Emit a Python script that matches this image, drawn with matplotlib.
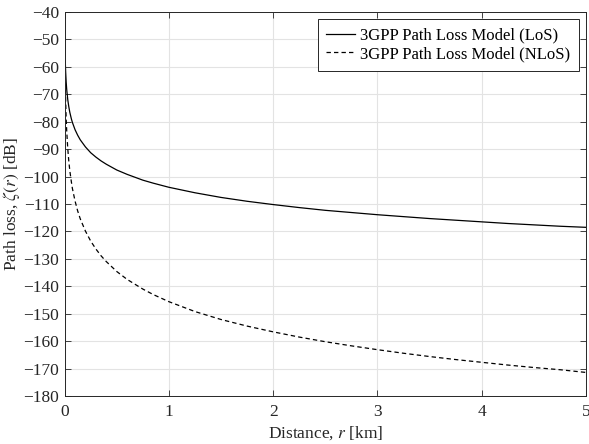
import matplotlib
matplotlib.use('Agg')
import matplotlib.pyplot as plt

# distance [km] and path loss [dB]
distance_km = [0.001, 0.002, 0.003, 0.005, 0.0075, 0.01, 0.015, 0.02, 0.03, 0.04,
               0.05, 0.065, 0.075, 0.1, 0.125, 0.15, 0.2, 0.25, 0.3, 0.35,
               0.4, 0.5, 0.6, 0.75, 0.85, 1, 1.25, 1.5, 1.75, 2,
               2.25, 2.5, 2.75, 3, 3.25, 3.5, 3.75, 4, 4.25, 4.5,
               4.75, 5]
loss_los = [-40.9, -47.2, -50.9, -55.6, -59.3, -61.9, -65.6, -68.2, -71.9, -74.5,
            -76.6, -79.0, -80.3, -82.9, -84.9, -86.6, -89.2, -91.3, -92.9, -94.3,
            -95.5, -97.6, -99.2, -101.3, -102.4, -103.9, -105.9, -107.6, -109.0, -110.2,
            -111.3, -112.3, -113.1, -113.9, -114.6, -115.3, -115.9, -116.5, -117.1, -117.6,
            -118.1, -118.5]
loss_nlos = [-35.5, -46.5, -53.0, -61.2, -67.6, -72.2, -79.1, -83.2, -89.7, -94.3,
             -97.9, -102.0, -104.4, -108.9, -112.5, -115.4, -119.9, -123.5, -126.4, -128.9,
             -131.0, -134.6, -137.5, -141.0, -143.0, -145.6, -149.2, -152.1, -154.5, -156.6,
             -158.5, -160.2, -161.7, -163.1, -164.4, -165.6, -166.7, -167.7, -168.7, -169.6,
             -170.4, -171.4]
labels = ['3GPP Path Loss Model (LoS)', '3GPP Path Loss Model (NLoS)']

plt.rcParams['font.family'] = 'Liberation Serif'
plt.rcParams['mathtext.fontset'] = 'stix'
plt.rcParams['font.size'] = 12.5

fig = plt.figure(figsize=(5.89, 4.44), dpi=100)
ax = fig.add_axes([0.1097, 0.108, 0.8853, 0.865])

ax.plot(distance_km, loss_los, 'k-', lw=0.9, label=labels[0])
ax.plot(distance_km, loss_nlos, 'k--', lw=0.9, dashes=(3.5, 2.5), label=labels[1])

ax.set_xlim(0, 5)
ax.set_ylim(-180, -40)
ax.set_xticks(range(0, 6))
ax.set_yticks(range(-180, -39, 10))
ax.grid(True, color='#e3e3e3', lw=0.8)
ax.set_axisbelow(True)
ax.tick_params(direction='in', top=True, right=True, length=4, width=0.6,
               color='#262626', labelcolor='#262626')
ax.tick_params(axis='x', pad=5.5)
ax.tick_params(axis='y', pad=4)
for s in ax.spines.values():
    s.set_color('#262626')
    s.set_linewidth(0.7)

ax.set_xlabel('Distance, $r$ [km]', labelpad=3, color='#262626')
ax.set_ylabel(r'Path loss, $\zeta(r)$ [dB]', labelpad=1, color='#262626')

leg = ax.legend(loc='upper right', fancybox=False, framealpha=1, edgecolor='#262626',
                fontsize=12, borderpad=0.5, handlelength=1.75, handletextpad=0.3,
                labelspacing=0.15, borderaxespad=0.45)
leg.get_frame().set_linewidth(0.7)

fig.savefig('out.png', dpi=100)
